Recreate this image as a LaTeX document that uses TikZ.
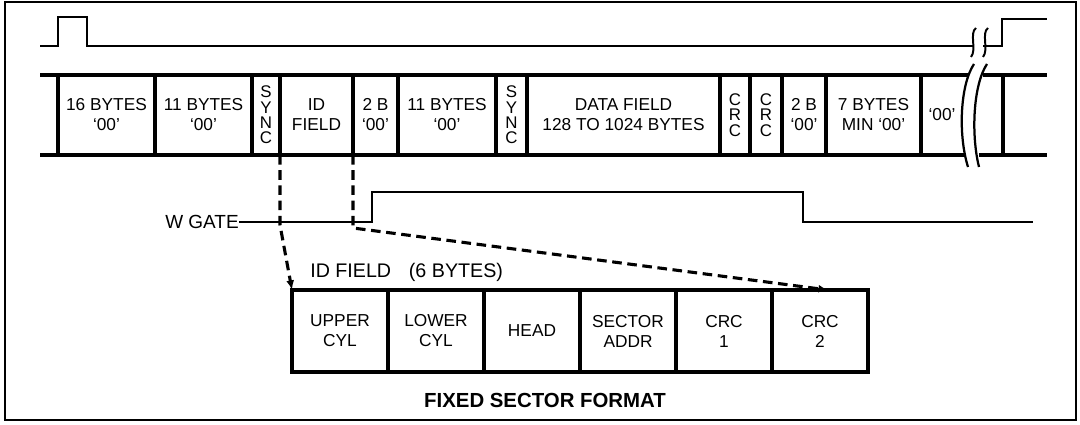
\documentclass[tikz,border=0pt]{standalone}
\usepackage{fontspec}
\setmainfont{Liberation Sans}
\usetikzlibrary{positioning,arrows.meta}

\begin{document}
\begin{tikzpicture}[
    x=0.25mm, y=-0.25mm,
    % Define the style for the outer frame
    frameStyle/.style={
        draw=black,
        line width=0.8pt
    },
    % Define the style for the pulse lines (index, write gate)
    sigStyle/.style={
        draw=black,
        line width=1.7pt,
        line join=miter
    },
    % Define the style for the track lines
    trackLine/.style={
        draw=black,
        line width=2.2pt
    },
    % Define the style for one field of the track
    cellStyle/.style={
        rectangle,
        draw=black,
        line width=2.2pt,
        inner sep=0pt,
        outer sep=0pt,
        minimum height=20mm,
        align=center,
        font=\fontsize{12.3}{14.2}\selectfont
    },
    % Letters set one below another (SYNC, CRC)
    stackText/.style={
        font=\fontsize{12}{11}\selectfont
    },
    % Define the style for one byte of the ID field
    idCell/.style={
        rectangle,
        draw=black,
        line width=2.2pt,
        inner sep=0pt,
        outer sep=0pt,
        minimum width=24mm,
        minimum height=20.5mm,
        align=center,
        font=\fontsize{12.3}{14.2}\selectfont
    },
    % Define the style for the free labels
    sigLabel/.style={
        inner sep=0pt,
        font=\fontsize{13.5}{16}\selectfont
    },
    titleStyle/.style={
        inner sep=0pt,
        font=\fontsize{14.5}{17}\selectfont\bfseries
    },
    % Define the style for the dashed leaders
    leaderStyle/.style={
        draw=black,
        line width=2.2pt,
        dash pattern=on 2.4mm off 1.4mm,
        -{Latex[length=2.4mm,width=2mm]}
    }
]

    % --- FRAME ---
    \useasboundingbox (0,0) rectangle (1080,425);
    \draw[frameStyle] (5,2) rectangle (1076,420);

    % --- INDEX PULSE ---
    \draw[sigStyle] (40,46) -- (58,46) -- (58,17) -- (87,17) -- (87,46) -- (973,46);
    \draw[sigStyle] (983,46) -- (1002,46) -- (1002,19) -- (1047,19);
    % break marks
    \draw[sigStyle, line width=1.4pt] (976,28) .. controls (969,33) and (977,50) .. (971,57);
    \draw[sigStyle, line width=1.4pt] (988,28) .. controls (981,33) and (989,50) .. (983,57);

    % --- TRACK ---
    \draw[trackLine] (40,75) -- (968,75);
    \draw[trackLine] (40,155) -- (966,155);
    \draw[trackLine] (983,75) -- (1047,75);
    \draw[trackLine] (979,155) -- (1047,155);
    \draw[trackLine] (1003,75) -- (1003,155);

    % Fields, from left edge to right edge
    \foreach \a/\b/\n/\t in {58/155/1/{16 BYTES\\‘00’}, 155/252/2/{11 BYTES\\‘00’},
        280/353/4/{ID\\FIELD}, 353/398/5/{2 B\\‘00’}, 398/496/6/{11 BYTES\\‘00’},
        527/720/8/{DATA FIELD\\128 TO 1024 BYTES}, 782/826/11/{2 B\\‘00’},
        826/921/12/{7 BYTES\\MIN ‘00’}} {
        \node[cellStyle, minimum width={(\b-\a)*0.25mm}] (T\n) at ({(\a+\b)/2},115) {\t};
    }
    % Narrow fields with upright letters
    \foreach \a/\b/\n/\t in {252/280/3/{S\\Y\\N\\C}, 496/527/7/{S\\Y\\N\\C},
        720/750/9/{C\\R\\C}, 750/782/10/{C\\R\\C}} {
        \node[cellStyle, stackText, minimum width={(\b-\a)*0.25mm}] (T\n) at ({(\a+\b)/2},115) {\t};
    }
    \node[cellStyle, draw=none, minimum width=10.5mm] (T13) at (942,115) {‘00’};

    % track break
    \draw[trackLine, line width=1.6pt] (974,64) .. controls (960,85) and (958,135) .. (968,167);
    \draw[trackLine, line width=1.6pt] (987,64) .. controls (973,85) and (971,135) .. (979,167);

    % --- WRITE GATE ---
    \node[sigLabel, anchor=east] (wgate) at (239,222) {W GATE};
    \draw[sigStyle] (wgate.east) -- (372,222) -- (372,192) -- (803,192) -- (803,222) -- (1033,222);

    % --- ID FIELD ---
    \node[sigLabel, anchor=base west, font=\fontsize{14}{16}\selectfont] (idlbl) at (310,278)
        {ID FIELD\hspace{0.9em}(6 BYTES)};
    \foreach \i/\t in {1/{UPPER\\CYL}, 2/{LOWER\\CYL}, 3/{HEAD}, 4/{SECTOR\\ADDR},
        5/{CRC\\1}, 6/{CRC\\2}} {
        \node[idCell] (F\i) at ({292+96*(\i-0.5)},331) {\t};
    }

    % leaders from the track down to the ID field
    \draw[leaderStyle] (T4.south west) -- ++(0,70) -- (F1.north west);
    \draw[leaderStyle] (T4.south east) -- ++(0,73) -- ([xshift=2mm]F6.north);

    % --- CAPTION ---
    \node[titleStyle] (title) at (545,400) {FIXED SECTOR FORMAT};

\end{tikzpicture}
\end{document}
